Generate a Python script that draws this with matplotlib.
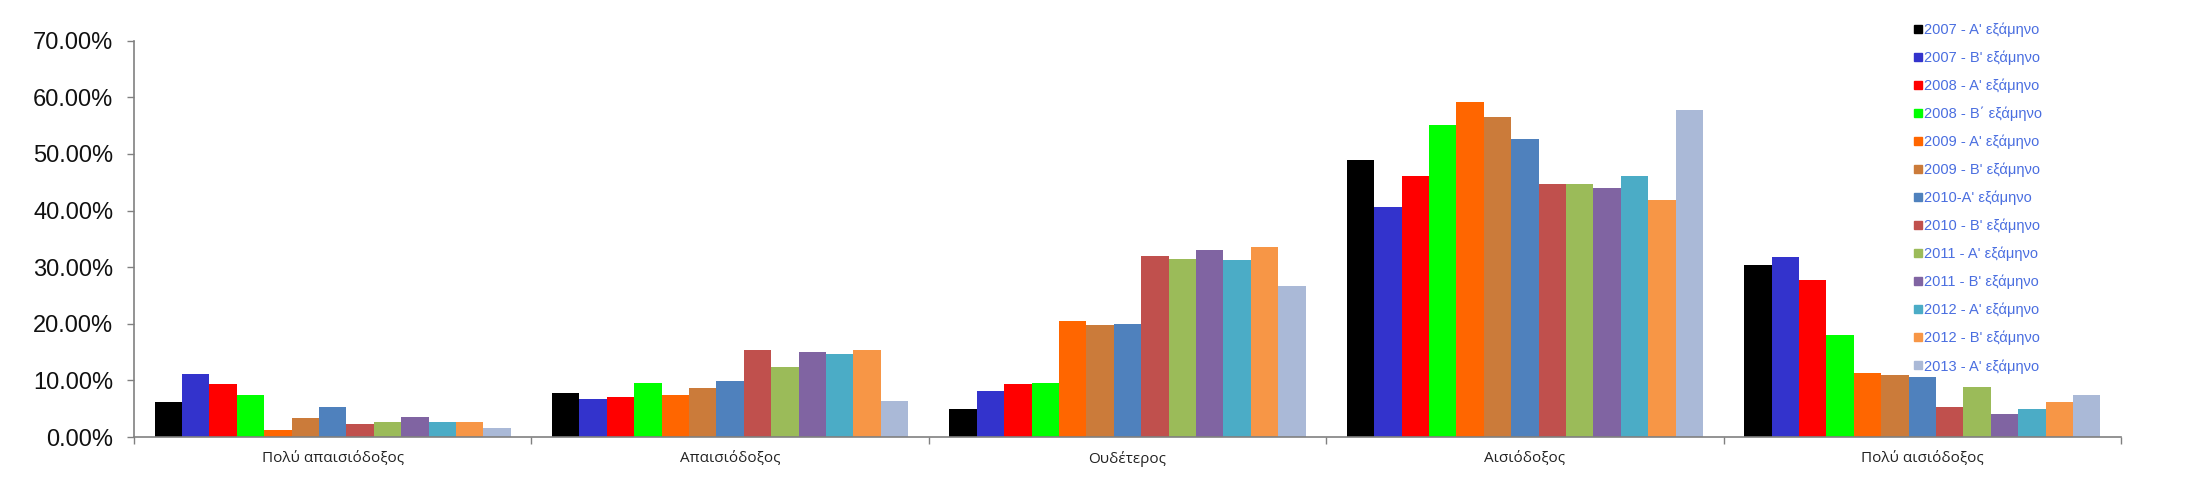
import matplotlib
matplotlib.use("Agg")
import matplotlib.pyplot as plt
from matplotlib.lines import Line2D
from matplotlib.ticker import FuncFormatter

# κατηγορίες απάντησης
categories = ["Πολύ απαισιόδοξος", "Απαισιόδοξος", "Ουδέτερος", "Αισιόδοξος", "Πολύ αισιόδοξος"]

series_labels = [
    "2007 - Α' εξάμηνο", "2007 - Β' εξάμηνο", "2008 - Α' εξάμηνο", "2008 - Β΄ εξάμηνο",
    "2009 - Α' εξάμηνο", "2009 - Β' εξάμηνο", "2010-Α' εξάμηνο", "2010 - Β' εξάμηνο",
    "2011 - Α' εξάμηνο", "2011 - Β' εξάμηνο", "2012 - Α' εξάμηνο", "2012 - Β' εξάμηνο",
    "2013 - Α' εξάμηνο",
]

series_colors = [
    "#000000", "#3333CC", "#FF0000", "#00FF00", "#FF6600", "#CB7B3A", "#4F81BD",
    "#C0504D", "#9BBB59", "#8064A2", "#4BACC6", "#F79646", "#AAB9D7",
]

# ποσοστά ανά εξάμηνο, μία τιμή ανά κατηγορία
v2007a = [0.0613, 0.0777, 0.0495, 0.4894, 0.3039]
v2007b = [0.1108, 0.0671, 0.0813, 0.4064, 0.3180]
v2008a = [0.0931, 0.0707, 0.0936, 0.4611, 0.2774]
v2008b = [0.0737, 0.0954, 0.0954, 0.5512, 0.1802]
v2009a = [0.0118, 0.0742, 0.2049, 0.5919, 0.1131]
v2009b = [0.0330, 0.0866, 0.1979, 0.5654, 0.1095]
v2010a = [0.0525, 0.0989, 0.1996, 0.5265, 0.1060]
v2010b = [0.0224, 0.1537, 0.3198, 0.4470, 0.0530]
v2011a = [0.0260, 0.1237, 0.3145, 0.4470, 0.0883]
v2011b = [0.0348, 0.1502, 0.3304, 0.4399, 0.0406]
v2012a = [0.0260, 0.1466, 0.3127, 0.4611, 0.0495]
v2012b = [0.0260, 0.1537, 0.3357, 0.4187, 0.0618]
v2013a = [0.0154, 0.0636, 0.2668, 0.5777, 0.0742]

series_values = [v2007a, v2007b, v2008a, v2008b, v2009a, v2009b, v2010a,
                 v2010b, v2011a, v2011b, v2012a, v2012b, v2013a]

fig = plt.figure(figsize=(22.08, 5.04), dpi=100)
ax = fig.add_axes([134 / 2208, 1 - 437 / 504, (2121 - 134) / 2208, (437 - 40.7) / 504])

n = len(series_values)
group = 0.896
bw = group / n
for j, (vals, col) in enumerate(zip(series_values, series_colors)):
    xs = [i + (1 - group) / 2 + j * bw for i in range(len(categories))]
    ax.bar(xs, vals, width=bw, align="edge", color=col, linewidth=0)

ax.set_xlim(0, len(categories))
ax.set_ylim(0, 0.70)

axis_gray = "#808080"
for s in ["top", "right"]:
    ax.spines[s].set_visible(False)
for s in ["left", "bottom"]:
    ax.spines[s].set_color(axis_gray)
    ax.spines[s].set_linewidth(1.2)

ax.set_yticks([i / 10 for i in range(8)])
ax.yaxis.set_major_formatter(FuncFormatter(lambda v, p: f"{v * 100:.2f}%"))
ax.tick_params(axis="y", direction="out", length=5, width=1, color=axis_gray, pad=10,
               labelsize=17, labelcolor="#111111")
for lab in ax.get_yticklabels():
    lab.set_fontfamily("Liberation Sans")

# όρια κατηγοριών ως κύρια σημάδια, ετικέτες στο κέντρο
ax.set_xticks(range(len(categories) + 1))
ax.set_xticklabels([""] * (len(categories) + 1))
ax.set_xticks([i + 0.5 for i in range(len(categories))], minor=True)
ax.set_xticklabels(categories, minor=True, fontsize=11, family="Open Sans", color="#222222")
ax.tick_params(axis="x", which="major", direction="out", length=5, width=1, color=axis_gray)
ax.tick_params(axis="x", which="minor", length=0, pad=10)

handles = [Line2D([], [], marker="s", linestyle="none", markersize=5.5,
                  markerfacecolor=c, markeredgecolor=c) for c in series_colors]
fig.legend(handles, series_labels, loc="upper left", bbox_to_anchor=(1906 / 2208, 1 - 15 / 504),
           frameon=False, handlelength=0.6, handletextpad=0.15, labelspacing=0.93,
           borderpad=0, prop={"family": "Liberation Sans", "size": 10.5}, labelcolor="#4A6EE0")

fig.savefig("out.png", dpi=100)
